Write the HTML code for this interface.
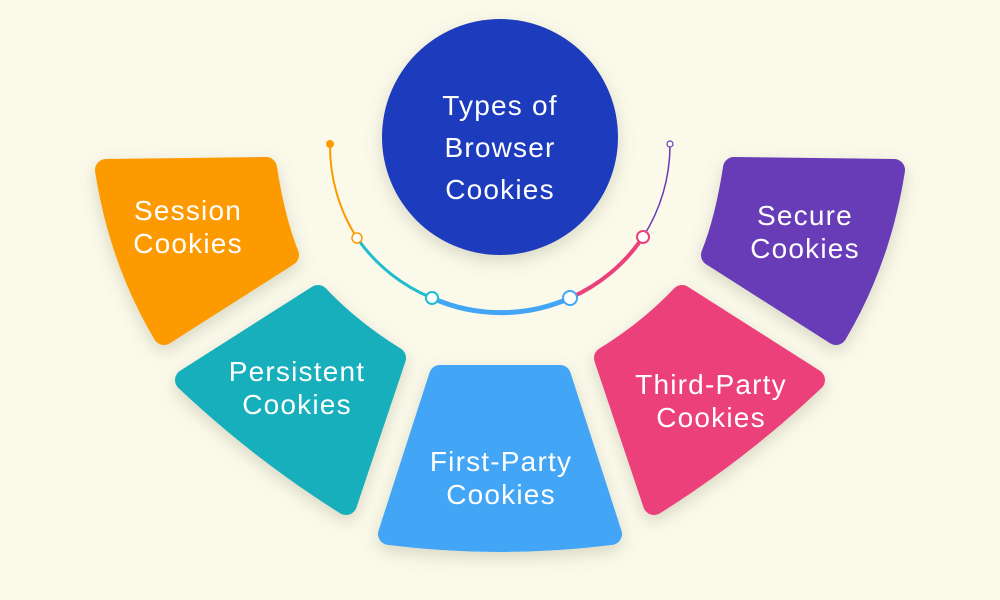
<!DOCTYPE html>
<html><head><meta charset="utf-8"><style>
html,body{margin:0;padding:0;background:#faf9ea;}
svg{display:block}
text{font-family:"Liberation Sans",sans-serif;fill:#fff;font-size:28px;text-anchor:middle;letter-spacing:1.2px;}
</style></head><body>
<svg width="1000" height="600" viewBox="0 0 1000 600">
<defs>
<filter id="sh" x="-30%" y="-30%" width="160%" height="160%">
<feDropShadow dx="0" dy="6" stdDeviation="8" flood-color="#8a8a70" flood-opacity="0.3"/>
</filter>
</defs>
<rect width="1000" height="600" fill="#faf9ea"/>
<g stroke-linejoin="round" stroke-width="22" filter="url(#sh)">
<path d="M106,170 L266,168 Q274,220 288,255 L164,334 Q120,260 106,170Z" fill="#fd9a00" stroke="#fd9a00"/>
<path d="M318,296 Q350,330 395,358 L346,504 Q260,450 186,380Z" fill="#13afbb" stroke="#13afbb"/>
<path d="M440,376 L560,376 L611,534 Q500,548 389,534Z" fill="#42a5f5" stroke="#42a5f5"/>
<path d="M682,296 Q650,330 605,358 L654,504 Q740,450 814,380Z" fill="#ec407a" stroke="#ec407a"/>
<path d="M894,170 L734,168 Q726,220 712,255 L836,334 Q880,260 894,170Z" fill="#673ab7" stroke="#673ab7"/>
</g>
<circle cx="500" cy="137" r="118" fill="#1e3bbd" filter="url(#sh)"/>
<text x="500" y="115" font-size="37" letter-spacing="1.5">Types of</text>
<text x="500" y="157" font-size="37" letter-spacing="1.5">Browser</text>
<text x="500" y="199" font-size="37" letter-spacing="1.5">Cookies</text>
<g fill="none">
<path d="M330,145 A170,170 0 0 0 357,238" stroke="#fd9a00" stroke-width="2"/>
<path d="M357,238 A170,170 0 0 0 432,298" stroke="#20bcd0" stroke-width="3"/>
<path d="M432,298 A170,170 0 0 0 570,298" stroke="#42a5f5" stroke-width="5"/>
<path d="M570,298 A170,170 0 0 0 643,237" stroke="#ec407a" stroke-width="4"/>
<path d="M643,237 A170,170 0 0 0 670,145" stroke="#673ab7" stroke-width="1.5"/>
</g>
<circle cx="330" cy="144" r="4" fill="#fd9a00"/>
<circle cx="670" cy="144" r="3" fill="#fff" stroke="#673ab7" stroke-width="1.2"/>
<circle cx="357" cy="238" r="5" fill="#fff" stroke="#fd9a00" stroke-width="1.5"/>
<circle cx="432" cy="298" r="6" fill="#fff" stroke="#20bcd0" stroke-width="2"/>
<circle cx="570" cy="298" r="7" fill="#fff" stroke="#42a5f5" stroke-width="2"/>
<circle cx="643" cy="237" r="6" fill="#fff" stroke="#ec407a" stroke-width="2"/>
<text x="188" y="220">Session</text>
<text x="188" y="253">Cookies</text>
<text x="297" y="381">Persistent</text>
<text x="297" y="414">Cookies</text>
<text x="501" y="471">First-Party</text>
<text x="501" y="504">Cookies</text>
<text x="711" y="394">Third-Party</text>
<text x="711" y="427">Cookies</text>
<text x="805" y="225">Secure</text>
<text x="805" y="258">Cookies</text>
</svg>
</body></html>
